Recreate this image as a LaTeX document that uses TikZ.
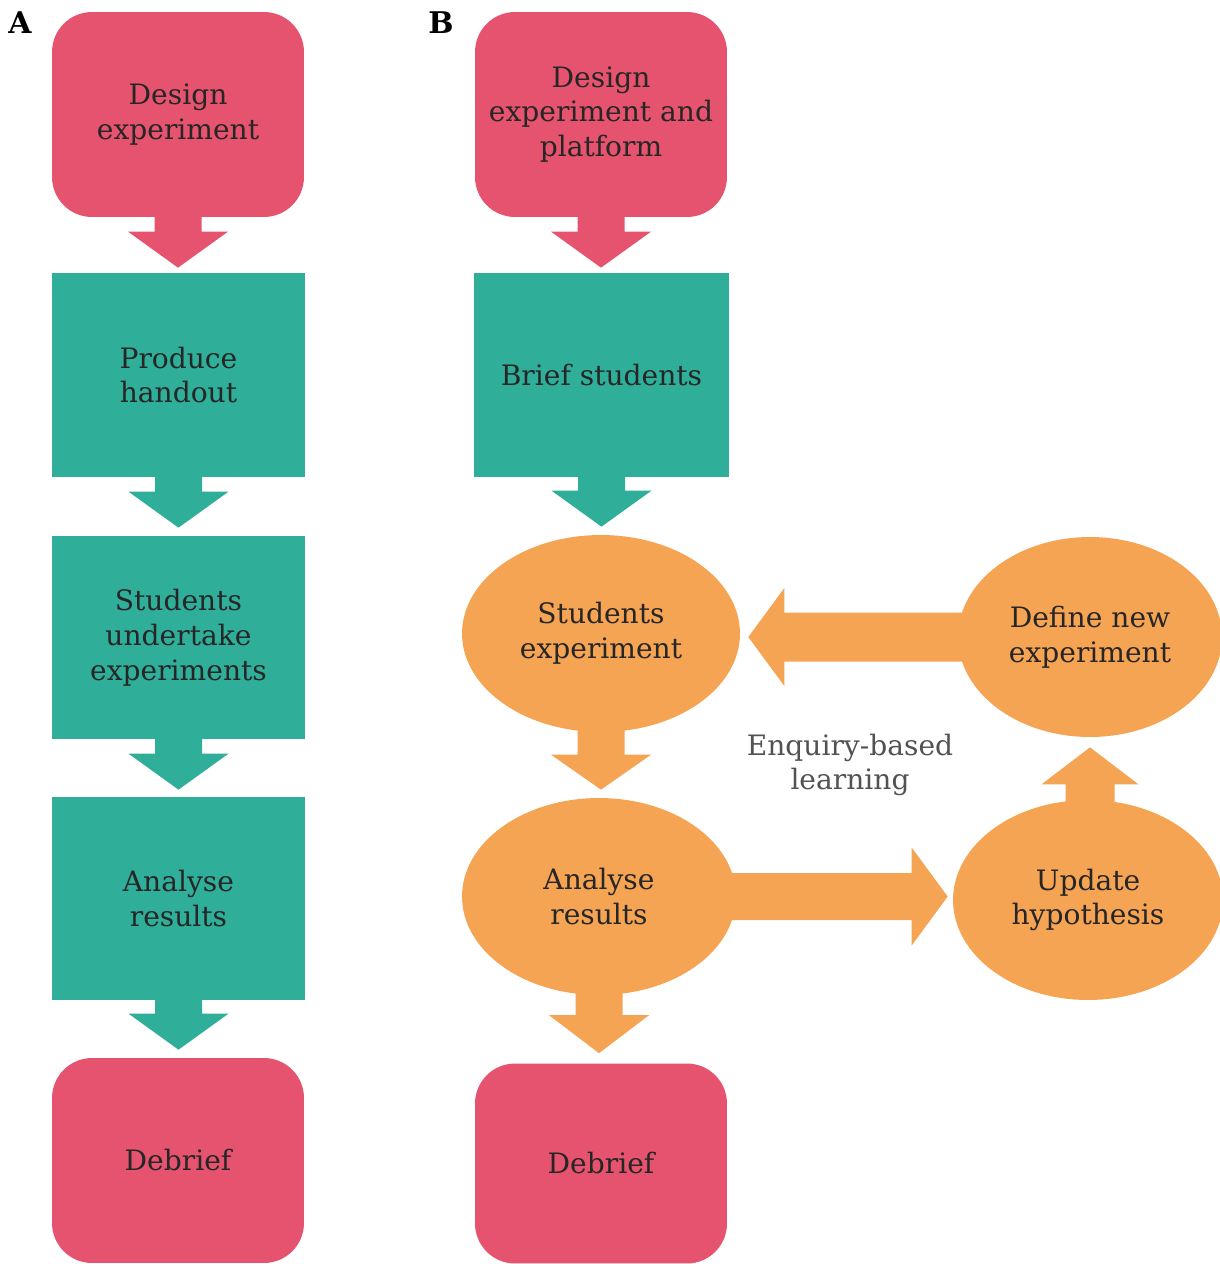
\documentclass[tikz,border=0pt]{standalone}
\usepackage{fontspec}
\setmainfont{DejaVu Serif}
\usetikzlibrary{shapes.geometric,calc}
\definecolor{cred}{HTML}{E6536E}
\definecolor{cteal}{HTML}{2FAE9A}
\definecolor{corange}{HTML}{F5A454}
\definecolor{ctext}{HTML}{262626}
% down block arrow: color, from, to, head length, gap
\newcommand\DownArr[5]{%
  \fill[#1] ($(#2.south)+(-23.5,-12)$) -- ($(#2.south |- #3.north)+(-23.5,-#4-#5)$)
   -- ($(#2.south |- #3.north)+(-50,-#4-#5)$) -- ($(#2.south |- #3.north)+(0,-#5)$)
   -- ($(#2.south |- #3.north)+(50,-#4-#5)$) -- ($(#2.south |- #3.north)+(23.5,-#4-#5)$)
   -- ($(#2.south)+(23.5,-12)$) -- cycle;}
\begin{document}
\begin{tikzpicture}[x=0.02cm,y=-0.02cm,
  lbl/.style={font=\fontsize{16}{19.8}\selectfont, text=ctext, align=center},
  redbox/.style={lbl, fill=cred, rounded corners=0.8cm, minimum width=5.04cm, minimum height=4.1cm, inner sep=0pt},
  tealbox/.style={lbl, fill=cteal, minimum width=5.06cm, minimum height=4.08cm, inner sep=0pt},
  oval/.style={lbl, ellipse, fill=corange, inner sep=0pt},
  panel/.style={font=\bfseries\fontsize{17}{17}\selectfont, text=black}
]
\useasboundingbox (0,0) rectangle (1220,1264);
\clip (0,0) rectangle (1220,1264);

% Panel A
\node[panel] (la) at (20,23) {A};
\node[redbox] (a1) at (178,114.5) {Design\\experiment};
\node[tealbox] (a2) at (178.5,375) {Produce\\handout};
\node[tealbox, minimum height=4.06cm] (a3) at (178.5,637.5) {Students\\undertake\\experiments};
\node[tealbox, minimum height=4.06cm] (a4) at (178.5,898.5) {Analyse\\results};
\node[redbox] (a5) at (178,1160.5) {Debrief};

\DownArr{cred}{a1}{a2}{36}{5}
\DownArr{cteal}{a2}{a3}{36}{8}
\DownArr{cteal}{a3}{a4}{36}{7}
\DownArr{cteal}{a4}{a5}{36}{8}

% Panel B
\node[panel] (lb) at (441,23) {B};
\node[redbox] (b1) at (601,114.5) {Design\\experiment and\\platform};
\node[tealbox, minimum width=5.1cm] (b2) at (601.5,375) {Brief students};
\node[oval, minimum width=5.56cm, minimum height=3.94cm] (b3) at (601,633.5) {Students\\experiment};
\node[oval, minimum width=5.48cm, minimum height=3.94cm] (b4) at (599,896.5) {Analyse\\results};
\node[redbox, minimum height=4.0cm] (b5) at (601,1163.5) {Debrief};
\node[oval, minimum width=5.28cm, minimum height=4.0cm] (b6) at (1090,637) {Define new\\experiment};
\node[oval, minimum width=5.4cm, minimum height=4.0cm] (b7) at (1088,900) {Update\\hypothesis};
\node[lbl, text=black!68] (eq) at (850,765) {Enquiry-based\\learning};

\DownArr{cred}{b1}{b2}{36}{5}
\DownArr{cteal}{b2}{b3}{36}{8}
\DownArr{corange}{b3}{b4}{35}{8}
\DownArr{corange}{b4}{b5}{38}{10}

% left arrow: define new experiment -> students experiment
\fill[corange] ($(b6.west)+(15,-24.5)$) -- ($(b3.east |- b6.west)+(44,-24.5)$)
  -- ($(b3.east |- b6.west)+(44,-49)$) -- ($(b3.east |- b6.west)+(8,0)$)
  -- ($(b3.east |- b6.west)+(44,49)$) -- ($(b3.east |- b6.west)+(44,24.5)$)
  -- ($(b6.west)+(15,24.5)$) -- cycle;
% right arrow: analyse results -> update hypothesis
\fill[corange] ($(b4.east)+(-15,-23.5)$) -- ($(b7.west |- b4.east)+(-41,-23.5)$)
  -- ($(b7.west |- b4.east)+(-41,-49)$) -- ($(b7.west |- b4.east)+(-5,0)$)
  -- ($(b7.west |- b4.east)+(-41,49)$) -- ($(b7.west |- b4.east)+(-41,23.5)$)
  -- ($(b4.east)+(-15,23.5)$) -- cycle;
% up arrow: update hypothesis -> define new experiment
\fill[corange] ($(b7.north -| b6.south)+(-24.5,12)$) -- ($(b6.south)+(-24.5,47)$)
  -- ($(b6.south)+(-48.5,47)$) -- ($(b6.south)+(0,10)$)
  -- ($(b6.south)+(48.5,47)$) -- ($(b6.south)+(24.5,47)$)
  -- ($(b7.north -| b6.south)+(24.5,12)$) -- cycle;
\end{tikzpicture}
\end{document}
